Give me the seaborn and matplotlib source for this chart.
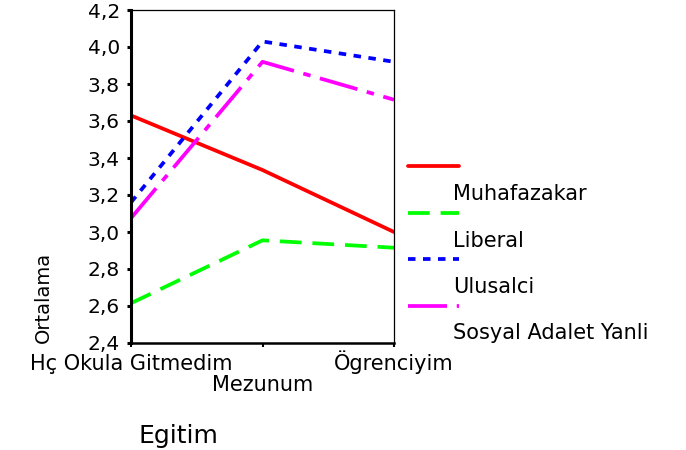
import matplotlib
matplotlib.use("Agg")
import matplotlib.pyplot as plt
from matplotlib.lines import Line2D
import seaborn as sns
import pandas as pd
import numpy as np

# ---- data ----
categories = ["Hç Okula Gitmedim", "Mezunum", "Ögrenciyim"]
series_names = ["Muhafazakar", "Liberal", "Ulusalci", "Sosyal Adalet Yanli"]
muhafazakar = [3.63, 3.335, 3.00]
liberal = [2.615, 2.955, 2.915]
ulusalci = [3.16, 4.03, 3.92]
sosyal_adalet = [3.075, 3.92, 3.715]
y_ticks = [2.4, 2.6, 2.8, 3.0, 3.2, 3.4, 3.6, 3.8, 4.0, 4.2]
y_tick_labels = ["2,4", "2,6", "2,8", "3,0", "3,2", "3,4", "3,6", "3,8", "4,0", "4,2"]

colors = ["#ff0000", "#00ff00", "#0000ff", "#ff00ff"]
dash_styles = ["", (5.8, 2.9), (2.0, 2.0), (10.4, 2.6, 2.0, 2.6)]

rows = []
for name, vals in zip(series_names, [muhafazakar, liberal, ulusalci, sosyal_adalet]):
    for i, v in enumerate(vals):
        rows.append({"pos": i, "cat": categories[i], "grup": name, "val": v})
df = pd.DataFrame(rows)

sns.set_style("white")
plt.rcParams["font.family"] = ["DejaVu Sans"]
plt.rcParams["text.color"] = "black"
plt.rcParams["xtick.color"] = "black"
plt.rcParams["ytick.color"] = "black"

fig = plt.figure(figsize=(6.86, 4.5), dpi=100)
W, H = 686, 450
ax = fig.add_axes([131 / W, 1 - 343 / H, (394 - 131) / W, (343 - 10) / H])

palette = dict(zip(series_names, colors))
dashes = dict(zip(series_names, dash_styles))
sns.lineplot(data=df, x="pos", y="val", hue="grup", style="grup",
             palette=palette, dashes=dashes, hue_order=series_names,
             style_order=series_names, linewidth=2.7, legend=False,
             sort=False, ax=ax)

ax.set_xlim(0, 2)
ax.set_ylim(2.4, 4.2)
ax.set_xticks(range(len(categories)))
ax.set_xticklabels(categories, fontsize=15)
ax.set_yticks(y_ticks)
ax.set_yticklabels(y_tick_labels, fontsize=14.5)
ax.set_xlabel("")
ax.set_ylabel("")

for side, lw in [("left", 2.2), ("bottom", 1.8), ("top", 0.9), ("right", 0.9)]:
    ax.spines[side].set_visible(True)
    ax.spines[side].set_color("black")
    ax.spines[side].set_linewidth(lw)

ax.tick_params(axis="y", direction="out", length=3, width=2.2, pad=5,
               left=True, colors="black", labelcolor="black")
ax.tick_params(axis="x", direction="out", length=3, width=1.5, pad=5,
               bottom=True, colors="black", labelcolor="black")
# staggered middle label; last label nudged up to align with the first
ax.xaxis.get_major_ticks()[1].set_pad(20)
ax.xaxis.get_major_ticks()[2].set_pad(2.5)

# axis titles
fig.text(43 / W, 1 - 297 / H, "Ortalama", rotation=90, fontsize=14,
         ha="center", va="center", color="black")
fig.text(178 / W, 1 - 436 / H, "Egitim", fontsize=18, ha="center",
         va="center", color="black")

# legend: sample line, then label below
line_y = [166, 213, 259, 306]
label_y = [194, 241, 287, 333]
for name, c, d, ly, ty in zip(series_names, colors, dash_styles, line_y, label_y):
    ln = Line2D([408 / W, 459 / W], [1 - ly / H, 1 - ly / H], color=c,
                linewidth=2.7, transform=fig.transFigure)
    if d != "":
        ln.set_dashes(d)
    fig.add_artist(ln)
    fig.text(453 / W, 1 - ty / H, name, fontsize=15, ha="left", va="center",
             color="black")

fig.savefig("out.png", dpi=100, facecolor="white")
